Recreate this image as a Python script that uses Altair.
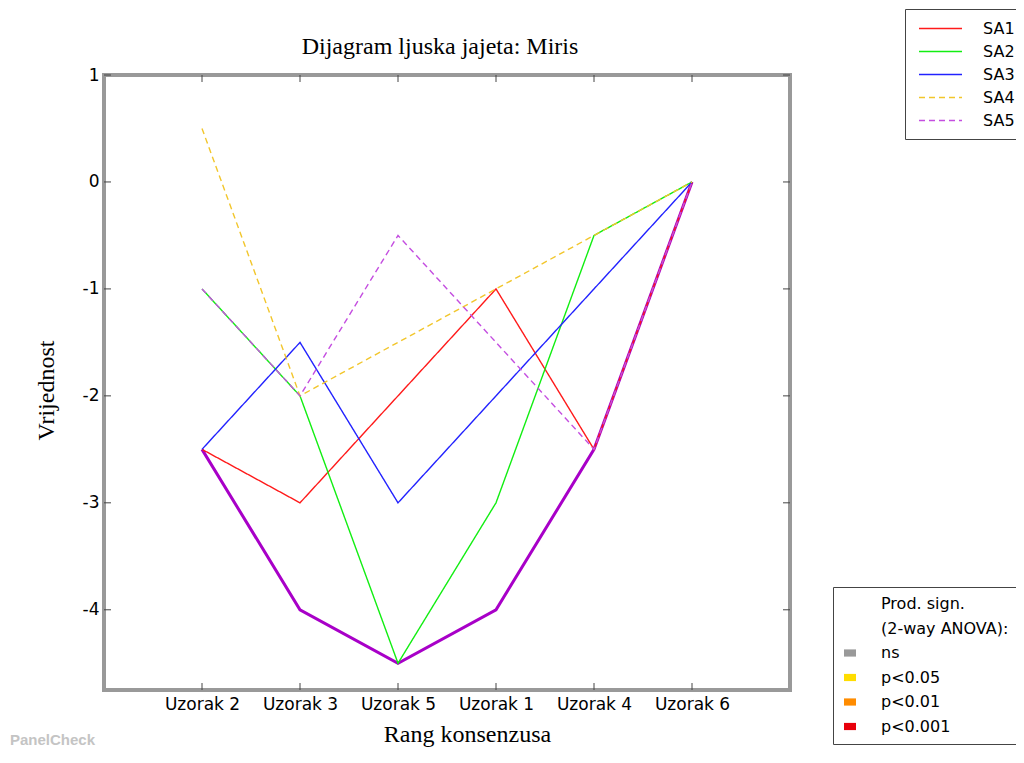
import altair as alt
import pandas as pd

categories = ["Uzorak 2", "Uzorak 3", "Uzorak 5", "Uzorak 1", "Uzorak 4", "Uzorak 6"]
series_names = ["SA1", "SA2", "SA3", "SA4", "SA5"]
sa1 = [-2.5, -3.0, -2.0, -1.0, -2.5, 0.0]
sa2 = [-1.0, -2.0, -4.5, -3.0, -0.5, 0.0]
sa3 = [-2.5, -1.5, -3.0, -2.0, -1.0, 0.0]
sa4 = [0.5, -2.0, -1.5, -1.0, -0.5, 0.0]
sa5 = [-1.0, -2.0, -0.5, -1.5, -2.5, 0.0]
consensus = [-2.5, -4.0, -4.5, -4.0, -2.5, 0.0]
y_ticks = [1, 0, -1, -2, -3, -4]
sig_title = ["Prod. sign.", "(2-way ANOVA):"]
sig_levels = ["ns", "p<0.05", "p<0.01", "p<0.001"]

series_colors = ["#ff1a1a", "#12ee12", "#2222ff", "#f2c62c", "#c44ee0"]
series_dash = [[1, 0], [1, 0], [1, 0], [6, 4], [6, 4]]
sig_colors = ["#999999", "#ffdd00", "#ff8c00", "#e8000b"]

W, H = 686, 615

rows = []
for name, vals in zip(series_names, [sa1, sa2, sa3, sa4, sa5]):
    for c, v in zip(categories, vals):
        rows.append({"cat": c, "v": v, "series": name})
df = pd.DataFrame(rows)
cons_df = pd.DataFrame({"cat": categories, "v": consensus})
cat_df = pd.DataFrame({"cat": categories})
ytick_df = pd.DataFrame({"v": y_ticks})
sig_domain = sig_title + sig_levels
sig_df = pd.DataFrame({"sig": sig_domain})
mark_df = pd.DataFrame({"t": ["PanelCheck"]})

x_enc = alt.X(
    "cat:N",
    scale=alt.Scale(domain=categories, type="point", padding=1),
    axis=alt.Axis(
        title="Rang konsenzusa", labelAngle=0, labelFont="DejaVu Sans", labelFontSize=17,
        labelColor="#000000", labelPadding=6, domain=False, ticks=False, tickSize=0,
        grid=False, titleFont="Liberation Serif", titleFontSize=24, titleFontWeight="normal",
        titleColor="#000000", titlePadding=10, titleX=363,
    ),
)
y_enc = alt.Y(
    "v:Q",
    scale=alt.Scale(domain=[-4.75, 1], nice=False, zero=False),
    axis=alt.Axis(
        title="Vrijednost", values=y_ticks, labelExpr="datum.value + ''",
        labelFont="DejaVu Sans", labelFontSize=17, labelColor="#000000", labelPadding=5,
        domain=False, ticks=False, tickSize=0, grid=False,
        titleFont="Liberation Serif", titleFontSize=24, titleFontWeight="normal",
        titleColor="#000000", titlePadding=24, titleY=315,
    ),
)

line_path = "M-2.5,0L2.5,0"
series_legend = alt.Legend(
    title=None, orient="none", legendX=801, legendY=-66,
    symbolType=line_path, symbolSize=296, symbolStrokeWidth=1.5, symbolOffset=16,
    labelFont="DejaVu Sans", labelFontSize=16, labelColor="#000000", labelOffset=33,
    padding=10, rowPadding=5, strokeColor="#444444", fillColor="#ffffff",
)

cons_layer = alt.Chart(cons_df).mark_line(color="#a800c8", strokeWidth=3).encode(x=x_enc, y=y_enc)

series_layer = alt.Chart(df).mark_line(strokeWidth=1.4).encode(
    x=x_enc,
    y=y_enc,
    color=alt.Color("series:N", scale=alt.Scale(domain=series_names, range=series_colors), legend=series_legend),
    strokeDash=alt.StrokeDash("series:N", scale=alt.Scale(domain=series_names, range=series_dash), legend=series_legend),
)

# hidden anchor points for the significance key; they sit under the key's own white box
rect_path = "M-1,-0.6L1,-0.6L1,0.6L-1,0.6Z"
sig_layer = alt.Chart(sig_df).mark_point(shape=rect_path, filled=True, size=144, opacity=1, strokeWidth=0).encode(
    x=alt.value(780),
    y=alt.value(600),
    fill=alt.Fill(
        "sig:N",
        scale=alt.Scale(domain=sig_domain, range=["transparent", "transparent"] + sig_colors),
        legend=alt.Legend(
            title=None, orient="none", legendX=729, legendY=512,
            symbolType=rect_path, symbolSize=144, symbolStrokeWidth=0,
            labelFont="DejaVu Sans", labelFontSize=16, labelColor="#000000", labelOffset=23,
            padding=9, rowPadding=8.5, strokeColor="#444444", fillColor="#ffffff",
        ),
    ),
)

tick_style = dict(color="#444444", strokeWidth=1)
xt_bottom = alt.Chart(cat_df).mark_rule(**tick_style).encode(x=x_enc, y=alt.value(H), y2=alt.value(H - 7))
xt_top = alt.Chart(cat_df).mark_rule(**tick_style).encode(x=x_enc, y=alt.value(0), y2=alt.value(7))
yt_left = alt.Chart(ytick_df).mark_rule(**tick_style).encode(y=y_enc, x=alt.value(0), x2=alt.value(7))
yt_right = alt.Chart(ytick_df).mark_rule(**tick_style).encode(y=y_enc, x=alt.value(W), x2=alt.value(W - 7))

watermark = alt.Chart(mark_df).mark_text(
    align="left", baseline="middle", font="Liberation Sans", fontSize=15, fontWeight="bold", color="#c4c4c4"
).encode(text="t:N", x=alt.value(-94), y=alt.value(665))

chart = alt.layer(
    cons_layer, series_layer, xt_bottom, xt_top, yt_left, yt_right, sig_layer, watermark
).properties(
    width=W,
    height=H,
    title=alt.TitleParams(
        "Dijagram ljuska jajeta: Miris", font="Liberation Serif", fontSize=24, fontWeight="normal",
        color="#000000", anchor="middle", frame="group", dx=-7, offset=-50,
    ),
    autosize=alt.AutoSizeParams(type="none"),
    padding={"left": 96, "top": 67, "right": 1008 - 96 - W, "bottom": 741 - 67 - H},
    background="#ffffff",
).configure_view(stroke="#999999", strokeWidth=4)

chart.save("out.html", embed_options={"renderer": "svg", "actions": False})
